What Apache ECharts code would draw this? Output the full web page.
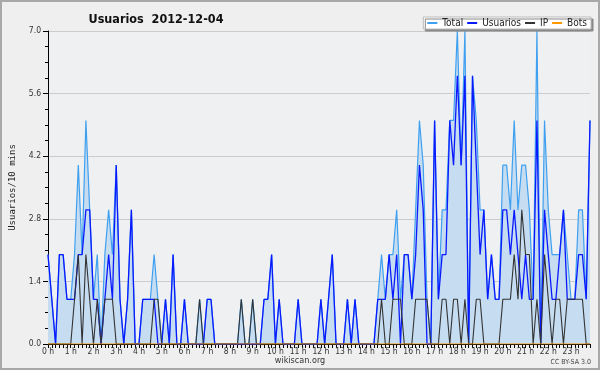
<!DOCTYPE html>
<html><head><meta charset="utf-8">
<script src="https://cdn.jsdelivr.net/npm/echarts@6/dist/echarts.min.js"></script>
<style>html,body{margin:0;padding:0;background:#efefef}#c{width:600px;height:370px}</style>
</head><body><div id="c"></div>
<script>
var hourLabels = ["0 h","1 h","2 h","3 h","4 h","5 h","6 h","7 h","8 h","9 h","10 h","11 h","12 h","13 h","14 h","15 h","16 h","17 h","18 h","19 h","20 h","21 h","22 h","23 h"];
var yTicks = [0, 1.4, 2.8, 4.2, 5.6, 7.0];
var total = [2,1,0,2,2,1,1,2,4,2, 5,3,1,2,0,2,3,2,4,1, 0,1,3,0,0,1,1,1,2,1, 0,1,0,2,0,0,1,0,0,0, 1,0,1,1,0,0,0,0,0,0, 0,1,0,0,1,0,0,1,1,2, 0,1,0,0,0,0,1,0,0,0, 0,0,1,0,1,2,0,0,0,1, 0,1,0,0,0,0,0,1,2,1, 2,2,3,1,2,2,1,3,5,4, 1,0,5,1,3,3,5,5,7,4, 7,0,6,5,3,3,1,2,1,1, 4,4,3,5,3,4,4,3,1,7, 0,5,3,2,2,2,3,2,1,1, 3,3,1,5];
var usuarios = [2,1,0,2,2,1,1,1,2,2, 3,3,1,1,0,1,2,1,4,1, 0,1,3,0,0,1,1,1,1,0, 0,1,0,2,0,0,1,0,0,0, 0,0,1,1,0,0,0,0,0,0, 0,0,0,0,0,0,0,1,1,2, 0,1,0,0,0,0,1,0,0,0, 0,0,1,0,1,2,0,0,0,1, 0,1,0,0,0,0,0,1,1,1, 2,1,2,0,2,2,1,2,4,3, 0,0,5,1,2,2,5,4,6,4, 6,0,6,4,2,3,1,2,1,1, 3,3,2,3,2,1,2,1,1,5, 0,3,2,1,1,2,3,1,1,1, 2,2,1,5];
var ip = [0,0,0,0,0,0,0,1,2,0, 2,1,0,1,0,1,1,1,0,0, 0,0,0,0,0,0,0,0,1,1, 0,0,0,0,0,0,0,0,0,0, 1,0,0,0,0,0,0,0,0,0, 0,1,0,0,1,0,0,0,0,0, 0,0,0,0,0,0,0,0,0,0, 0,0,0,0,0,0,0,0,0,0, 0,0,0,0,0,0,0,0,1,0, 0,1,1,1,0,0,0,1,1,1, 1,0,0,0,1,1,0,1,1,0, 1,0,0,1,1,0,0,0,0,0, 1,1,1,2,1,3,2,2,0,1, 0,2,1,0,1,1,0,1,1,1, 1,1,0,0];
var bots = [0,0,0,0,0,0,0,0,0,0, 0,0,0,0,0,0,0,0,0,0, 0,0,0,0,0,0,0,0,0,0, 0,0,0,0,0,0,0,0,0,0, 0,0,0,0,0,0,0,0,0,0, 0,0,0,0,0,0,0,0,0,0, 0,0,0,0,0,0,0,0,0,0, 0,0,0,0,0,0,0,0,0,0, 0,0,0,0,0,0,0,0,0,0, 0,0,0,0,0,0,0,0,0,0, 0,0,0,0,0,0,0,0,0,0, 0,0,0,0,0,0,0,0,0,0, 0,0,0,0,0,0,0,0,0,0, 0,0,0,0,0,0,0,0,0,0, 0,0,0,0];

var cats = [];
for (var i = 0; i < total.length; i++) cats.push(i % 6 === 0 ? hourLabels[i / 6] : '');

var F = "'DejaVu Sans Condensed', 'Liberation Sans', sans-serif";
var chart = echarts.init(document.getElementById('c'), null, {renderer: 'canvas'});
chart.setOption({
  backgroundColor: '#efefef',
  animation: false,
  textStyle: {fontFamily: F},
  title: {
    text: 'Usuarios  2012-12-04', left: 151, top: 8, textAlign: 'center',
    textStyle: {fontFamily: F, fontWeight: 'bold', fontSize: 12.5, color: '#111'}
  },
  graphic: [
    {type: 'rect', shape: {x: 1, y: 1, width: 598, height: 368}, style: {fill: 'none', stroke: '#a8a8a8', lineWidth: 2}, silent: true},
    {type: 'text', left: 'center', top: 356, style: {text: 'wikiscan.org', font: "9px 'DejaVu Sans Condensed', 'Liberation Sans', sans-serif", fill: '#333'}},
    {type: 'text', right: 9, top: 359, style: {text: 'CC BY-SA 3.0', font: "7px 'DejaVu Sans Condensed', 'Liberation Sans', sans-serif", fill: '#444'}}
  ],
  legend: {
    data: ['Total', 'Usuarios', 'IP', 'Bots'],
    right: 9, top: 17, padding: [1, 4, 1, 4],
    backgroundColor: '#ffffff', borderColor: '#bbbbbb', borderWidth: 1,
    shadowColor: '#888', shadowBlur: 0, shadowOffsetX: 2, shadowOffsetY: 2,
    itemWidth: 10, itemHeight: 2, itemGap: 4, icon: 'rect',
    textStyle: {fontFamily: F, fontSize: 10, color: '#222', padding: [0, 0, 0, 0]}
  },
  grid: {left: 46, right: 10, top: 31, bottom: 26, show: true, backgroundColor: '#eef0f2', borderWidth: 0},
  xAxis: {
    type: 'category', data: cats, boundaryGap: false,
    axisLine: {lineStyle: {color: '#000', width: 1}},
    axisTick: {interval: 0, length: 4, lineStyle: {color: '#000'}},
    axisLabel: {interval: 0, margin: 3, fontSize: 8.5, color: '#333', fontFamily: F},
    splitLine: {show: false}
  },
  yAxis: {
    type: 'value', min: yTicks[0], max: yTicks[yTicks.length - 1], interval: 1.4,
    name: 'Usuarios/10 mins', nameLocation: 'middle', nameRotate: 90, nameGap: 31,
    nameTextStyle: {fontFamily: "'DejaVu Sans Mono', monospace", fontSize: 9, color: '#222'},
    axisLine: {show: true, lineStyle: {color: '#000', width: 1}},
    axisTick: {show: true, length: 5, lineStyle: {color: '#000'}},
    minorTick: {show: true, splitNumber: 4, length: 3, lineStyle: {color: '#000'}},
    axisLabel: {margin: 7, fontSize: 8.5, color: '#333', fontFamily: F, formatter: function (v) { return v.toFixed(1); }},
    splitLine: {show: true, lineStyle: {color: '#cccccc', width: 1}}
  },
  series: [
    {name: 'Total', type: 'line', data: total, symbol: 'none', color: '#3fa0f0',
      lineStyle: {width: 1.2, color: '#3fa0f0'}, areaStyle: {color: '#c6dcf0', opacity: 1}},
    {name: 'Usuarios', type: 'line', data: usuarios, symbol: 'none', color: '#0a1aff',
      lineStyle: {width: 1.3, color: '#0a1aff'}},
    {name: 'IP', type: 'line', data: ip, symbol: 'none', color: '#333333',
      lineStyle: {width: 1.1, color: '#333333'}},
    {name: 'Bots', type: 'line', data: bots, symbol: 'none', color: '#ff9900',
      lineStyle: {width: 1, color: '#ff9900'}}
  ]
});
</script></body></html>
